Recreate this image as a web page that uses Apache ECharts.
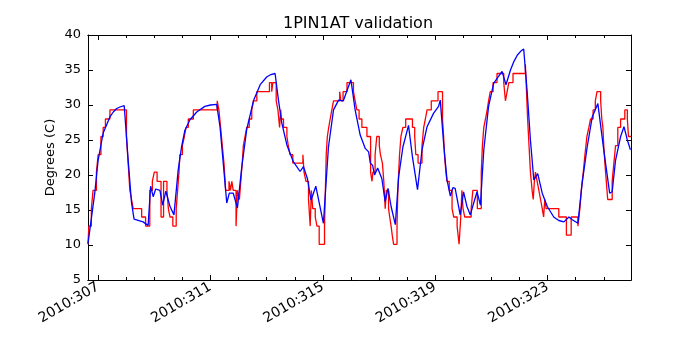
<!DOCTYPE html>
<html>
<head>
<meta charset="utf-8">
<title>1PIN1AT validation</title>
<script src="https://cdn.jsdelivr.net/npm/echarts@6/dist/echarts.min.js"></script>
<style>
  html, body { margin: 0; padding: 0; background: #fff; }
  #chart { width: 700px; height: 350px; }
</style>
</head>
<body>
<div id="chart"></div>
<script>
// x values are day of year 2010 (fractional)
// telemetry, quantized -> drawn as steps
var telemDays = [306.64, 306.67, 306.76, 306.82, 306.94, 307.00, 307.10, 307.18, 307.26, 307.42,
  308.01, 308.05, 308.09, 308.13, 308.19, 308.25, 308.55, 308.69, 308.84, 308.93,
  309.00, 309.10, 309.24, 309.33, 309.45, 309.50, 309.56, 309.66, 309.78, 309.83,
  309.88, 309.91, 310.00, 310.07, 310.13, 310.21, 310.39, 311.24, 311.30, 311.36,
  311.42, 311.48, 311.54, 311.66, 311.71, 311.76, 311.81, 311.91, 311.96, 312.03,
  312.08, 312.13, 312.17, 312.23, 312.29, 312.38, 312.47, 312.53, 312.65, 313.10,
  313.18, 313.22, 313.34, 313.40, 313.46, 313.50, 313.52, 313.60, 313.72, 313.77,
  313.83, 313.93, 314.29, 314.33, 314.40, 314.49, 314.55, 314.59, 314.64, 314.73,
  314.79, 314.87, 315.06, 315.09, 315.12, 315.16, 315.21, 315.26, 315.32, 315.38,
  315.60, 315.64, 315.72, 315.86, 316.09, 316.15, 316.21, 316.29, 316.39, 316.57,
  316.70, 316.75, 316.78, 316.86, 316.92, 317.01, 317.05, 317.12, 317.17, 317.22,
  317.26, 317.34, 317.38, 317.43, 317.47, 317.52, 317.64, 317.67, 317.70, 317.73,
  317.78, 317.85, 317.95, 318.19, 318.27, 318.31, 318.39, 318.53, 318.59, 318.65,
  318.71, 318.86, 319.10, 319.26, 319.30, 319.33, 319.38, 319.42, 319.50, 319.60,
  319.66, 319.78, 319.85, 319.91, 319.95, 319.99, 320.05, 320.28, 320.34, 320.50,
  320.64, 320.68, 320.73, 320.79, 320.85, 320.90, 320.96, 321.06, 321.20, 321.44,
  321.50, 321.56, 321.62, 321.77, 322.21, 322.25, 322.29, 322.34, 322.39, 322.45,
  322.49, 322.53, 322.57, 322.63, 322.69, 322.75, 322.81, 322.86, 322.90, 322.95,
  323.40, 323.67, 323.84, 324.08, 324.15, 324.20, 324.27, 324.33, 324.40, 324.47,
  324.53, 324.62, 324.70, 324.76, 324.89, 324.93, 324.97, 325.00, 325.04, 325.09,
  325.14, 325.30, 325.36, 325.42, 325.50, 325.60, 325.75, 325.84, 325.88, 325.97];
var telemTemps = [10.1, 12.7, 15.2, 17.8, 20.4, 22.9, 25.5, 26.8, 28.0, 29.3,
  25.5, 22.9, 20.4, 17.8, 16.5, 15.2, 14.0, 12.7, 17.8, 19.1,
  20.4, 19.1, 14.0, 19.1, 17.8, 15.2, 14.0, 12.7, 15.2, 17.8,
  20.4, 22.9, 24.2, 25.5, 26.8, 28.0, 29.3, 30.6, 29.3, 26.8,
  24.2, 21.7, 17.8, 19.1, 17.8, 19.1, 17.8, 12.7, 17.8, 16.5,
  19.1, 21.7, 24.2, 25.5, 26.8, 28.0, 29.3, 30.6, 31.9, 33.2,
  31.9, 33.2, 30.6, 29.3, 26.8, 29.3, 28.0, 26.8, 25.5, 24.2,
  22.9, 21.7, 22.9, 20.4, 19.1, 16.5, 12.7, 17.8, 15.2, 14.0,
  12.7, 10.1, 12.7, 17.8, 22.9, 25.5, 26.8, 28.0, 29.3, 30.6,
  31.9, 30.6, 31.9, 33.2, 31.9, 30.6, 29.3, 28.0, 26.8, 25.5,
  20.4, 19.1, 20.4, 22.9, 25.5, 24.2, 22.9, 21.7, 19.1, 15.2,
  17.8, 15.2, 14.0, 12.7, 11.4, 10.1, 12.7, 17.8, 20.4, 22.9,
  25.5, 26.8, 28.0, 26.8, 25.5, 22.9, 21.7, 24.2, 26.8, 28.0,
  29.3, 30.6, 31.9, 28.0, 25.5, 22.9, 20.4, 19.1, 17.8, 15.2,
  14.0, 12.7, 10.1, 14.0, 17.8, 15.2, 14.0, 15.2, 17.8, 15.2,
  20.4, 24.2, 26.8, 28.0, 29.3, 30.6, 31.9, 33.2, 34.5, 33.2,
  30.6, 31.9, 33.2, 34.5, 35.8, 31.9, 28.0, 24.2, 20.4, 17.8,
  16.5, 19.1, 20.4, 19.1, 17.8, 16.5, 15.2, 14.0, 16.5, 15.2,
  14.0, 11.4, 14.0, 12.7, 15.2, 17.8, 20.4, 22.9, 25.5, 26.8,
  28.0, 29.3, 30.6, 31.9, 30.6, 28.0, 26.8, 24.2, 21.7, 19.1,
  16.5, 19.1, 21.7, 24.2, 26.8, 28.0, 29.3, 28.0, 25.5, 25.5];

// model prediction
var modelDays = [306.64, 306.88, 307.00, 307.18, 307.42, 307.54, 307.66, 307.80, 307.93, 308.07,
  308.19, 308.28, 308.60, 308.78, 308.87, 308.96, 309.05, 309.20, 309.30, 309.41,
  309.56, 309.70, 309.85, 309.97, 310.09, 310.27, 310.51, 310.80, 311.00, 311.22,
  311.34, 311.58, 311.67, 311.81, 311.96, 312.11, 312.29, 312.53, 312.77, 313.00,
  313.15, 313.30, 313.42, 313.54, 313.72, 313.95, 314.19, 314.31, 314.45, 314.58,
  314.75, 315.02, 315.20, 315.38, 315.56, 315.73, 316.00, 316.15, 316.33, 316.51,
  316.63, 316.69, 316.77, 316.84, 316.95, 317.10, 317.22, 317.32, 317.43, 317.58,
  317.70, 317.85, 318.05, 318.19, 318.37, 318.53, 318.71, 318.94, 319.12, 319.18,
  319.30, 319.42, 319.54, 319.63, 319.71, 319.89, 320.01, 320.13, 320.25, 320.37,
  320.49, 320.61, 320.73, 320.90, 321.08, 321.14, 321.38, 321.52, 321.68, 321.80,
  321.92, 322.05, 322.15, 322.27, 322.39, 322.51, 322.65, 322.81, 322.99, 323.22,
  323.40, 323.58, 323.76, 323.88, 324.08, 324.23, 324.41, 324.59, 324.79, 325.00,
  325.21, 325.30, 325.42, 325.60, 325.72, 325.84, 325.95];
var modelTemps = [10.2, 17.4, 22.1, 26.0, 28.3, 29.0, 29.5, 29.75, 29.9, 22.1,
  16.0, 13.7, 13.3, 12.8, 18.4, 16.9, 18.0, 17.8, 15.7, 17.7,
  15.5, 14.3, 20.7, 24.0, 26.4, 27.9, 29.0, 29.8, 30.0, 30.1,
  26.9, 16.0, 17.4, 17.4, 15.3, 21.0, 26.5, 30.6, 32.9, 34.0,
  34.35, 34.5, 30.7, 27.4, 24.3, 21.9, 20.5, 21.2, 19.5, 16.4,
  18.4, 13.1, 24.0, 29.3, 30.7, 30.6, 33.6, 29.3, 25.7, 23.8,
  23.3, 21.7, 21.4, 20.0, 21.0, 19.5, 16.2, 18.1, 15.5, 12.9,
  19.8, 24.0, 27.1, 22.6, 17.9, 23.6, 26.9, 28.8, 29.8, 30.7,
  24.5, 19.3, 17.0, 18.2, 18.1, 14.3, 17.6, 15.5, 14.3, 16.0,
  17.6, 15.7, 23.6, 29.8, 33.1, 33.3, 34.8, 32.9, 35.0, 36.2,
  37.1, 37.7, 38.0, 32.1, 25.0, 19.3, 20.2, 17.4, 15.5, 14.0,
  13.5, 13.3, 14.0, 13.6, 13.1, 18.8, 24.0, 28.3, 30.2, 23.6,
  17.4, 17.6, 22.1, 25.5, 26.9, 25.0, 23.6];

var majorDays = [307, 311, 315, 319, 323];
var minorDays = [307, 308, 309, 310, 311, 312, 313, 314, 315, 316, 317, 318, 319, 320, 321, 322, 323, 324, 325];

var FONT = 'DejaVu Sans';
var xMin = 306.64, xMax = 325.97;

function zip(xs, ys) {
  var out = [];
  for (var i = 0; i < xs.length; i++) {
    out.push([xs[i], ys[i]]);
  }
  return out;
}

// one x axis per tick set (major / minor, bottom / top)
function dayAxis(pos, ticks, len, labels) {
  return {
    type: 'value',
    position: pos,
    min: xMin,
    max: xMax,
    splitLine: { show: false },
    axisLine: { show: true, onZero: false, lineStyle: { color: '#000', width: 1 } },
    axisTick: { show: true, inside: true, length: len, customValues: ticks, lineStyle: { color: '#000' } },
    axisLabel: labels ? {
      show: true,
      customValues: ticks,
      rotate: 30,
      margin: 6,
      color: '#000',
      fontFamily: FONT,
      fontSize: 14,
      formatter: function (v) { return '2010:' + Math.round(v); }
    } : { show: false }
  };
}

function tempAxis(pos, labels) {
  return {
    type: 'value',
    position: pos,
    min: 5,
    max: 40,
    interval: 5,
    name: labels ? 'Degrees (C)' : '',
    nameLocation: 'middle',
    nameGap: 31,
    nameMoveOverlap: false,
    nameTextStyle: { color: '#000', fontFamily: FONT, fontSize: 13 },
    splitLine: { show: false },
    axisLine: { show: true, onZero: false, lineStyle: { color: '#000', width: 1 } },
    axisTick: { show: true, inside: true, length: 5, lineStyle: { color: '#000' } },
    axisLabel: { show: labels, margin: 7, color: '#000', fontFamily: FONT, fontSize: 13 }
  };
}

var chart = echarts.init(document.getElementById('chart'));
chart.setOption({
  animation: false,
  backgroundColor: '#fff',
  title: {
    text: '1PIN1AT validation',
    left: 353,
    top: 11,
    textAlign: 'center',
    textStyle: { color: '#000', fontFamily: FONT, fontSize: 16, fontWeight: 'normal' }
  },
  grid: { left: 88, right: 69, top: 35, bottom: 70 },
  xAxis: [
    dayAxis('bottom', majorDays, 5, true),
    dayAxis('bottom', minorDays, 3, false),
    dayAxis('top', majorDays, 5, false),
    dayAxis('top', minorDays, 3, false)
  ],
  yAxis: [tempAxis('left', true), tempAxis('right', false)],
  series: [
    {
      name: 'telemetry',
      type: 'line',
      step: 'end',
      showSymbol: false,
      data: zip(telemDays, telemTemps),
      lineStyle: { color: '#ff0000', width: 1.3 },
      itemStyle: { color: '#ff0000' }
    },
    {
      name: 'model',
      type: 'line',
      showSymbol: false,
      data: zip(modelDays, modelTemps),
      lineStyle: { color: '#0000ff', width: 1.3 },
      itemStyle: { color: '#0000ff' }
    }
  ]
});
</script>
</body>
</html>
